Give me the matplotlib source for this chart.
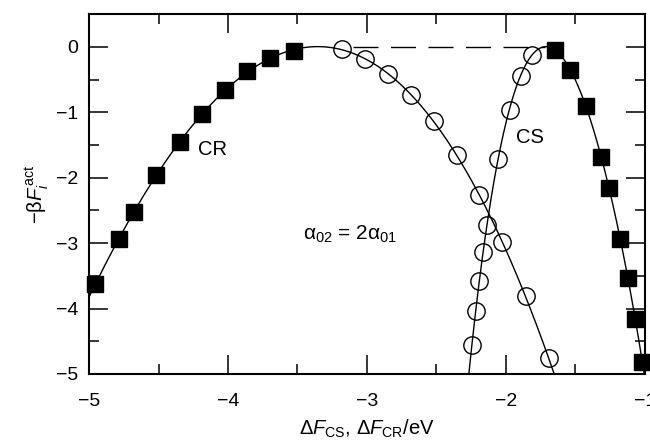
import numpy as np
import matplotlib.pyplot as plt
from matplotlib.ticker import MultipleLocator

plt.rcParams['font.family'] = ['Liberation Sans', 'DejaVu Sans']
plt.rcParams['mathtext.fontset'] = 'custom'
plt.rcParams['mathtext.rm'] = 'Liberation Sans'
plt.rcParams['mathtext.it'] = 'Liberation Sans:italic'

# ====== DATA ======
# CR branch, filled squares (left)
cr_sq_x = [-4.954, -4.786, -4.676, -4.515, -4.347, -4.184, -4.024, -3.860, -3.695, -3.527]
cr_sq_y = [-3.62, -2.94, -2.52, -1.96, -1.46, -1.03, -0.66, -0.37, -0.17, -0.06]
# CR branch, open circles
cr_ci_x = [-3.177, -3.012, -2.849, -2.686, -2.520, -2.353, -2.190, -2.026, -1.858, -1.693]
cr_ci_y = [-0.03, -0.19, -0.41, -0.74, -1.14, -1.65, -2.27, -2.98, -3.81, -4.76]
# CS branch, open circles
cs_ci_x = [-2.242, -2.218, -2.194, -2.165, -2.137, -2.053, -1.973, -1.894, -1.813]
cs_ci_y = [-4.56, -4.04, -3.58, -3.14, -2.73, -1.71, -0.96, -0.44, -0.12]
# CS branch, filled squares (right)
cs_sq_x = [-1.645, -1.537, -1.420, -1.314, -1.260, -1.177, -1.122, -1.067, -1.019]
cs_sq_y = [-0.05, -0.35, -0.91, -1.68, -2.16, -2.94, -3.53, -4.16, -4.81]

fig = plt.figure(figsize=(6.5, 4.42), dpi=100)
ax = fig.add_axes([0.137, 0.154, 0.855, 0.814])

# smooth curves through each branch
x1 = np.array(cr_sq_x + cr_ci_x)
y1 = np.array(cr_sq_y + cr_ci_y)
p1 = np.polyfit(x1, y1, 4)
xx1 = np.linspace(-5, -1.6, 300)
ax.plot(xx1, np.polyval(p1, xx1), color='black', lw=1)

x2 = np.array(cs_ci_x + cs_sq_x)
y2 = np.array(cs_ci_y + cs_sq_y)
p2 = np.polyfit(x2, y2, 4)
xx2 = np.linspace(-2.3, -0.98, 300)
ax.plot(xx2, np.polyval(p2, xx2), color='black', lw=1)

# dashed zero line between the two maxima
ax.plot([-3.1, -1.72], [0, 0], color='black', lw=1, dashes=(18, 9))

ax.plot(cr_sq_x, cr_sq_y, 's', color='black', ms=11.5, clip_on=False)
ax.plot(cs_sq_x, cs_sq_y, 's', color='black', ms=11.5, clip_on=False)
ax.plot(cr_ci_x, cr_ci_y, 'o', mfc='none', mec='black', mew=1, ms=12.5, clip_on=False)
ax.plot(cs_ci_x, cs_ci_y, 'o', mfc='none', mec='black', mew=1, ms=12.5, clip_on=False)

ax.text(-4.11, -1.57, 'CR', fontsize=14.5, ha='center', va='center')
ax.text(-1.83, -1.39, 'CS', fontsize=14.5, ha='center', va='center')
ax.text(-3.12, -2.87, 'α$_{02}$ = 2α$_{01}$', fontsize=15,
        ha='center', va='center')

ax.set_xlim(-5, -1)
ax.set_ylim(-5, 0.5)
ax.xaxis.set_major_locator(MultipleLocator(1))
ax.xaxis.set_minor_locator(MultipleLocator(0.5))
ax.yaxis.set_major_locator(MultipleLocator(1))
ax.yaxis.set_minor_locator(MultipleLocator(0.5))
ax.set_yticks([0, -1, -2, -3, -4, -5])
ax.tick_params(which='both', direction='in', top=True, right=True,
               labelsize=14, width=1.1)
ax.tick_params(axis='x', pad=14)
ax.tick_params(axis='y', pad=8)
ax.tick_params(which='major', length=13.5)
ax.tick_params(which='minor', length=7)
for s in ax.spines.values():
    s.set_linewidth(1.5)

ax.set_xlabel(r'Δ$F_{\mathrm{CS}}$, Δ$F_{\mathrm{CR}}$/eV', fontsize=14.5, labelpad=5)
ax.set_ylabel(r'−β$F_i^{\,\mathrm{act}}$', fontsize=14.5, labelpad=4)

fig.savefig('out.png', dpi=100)
